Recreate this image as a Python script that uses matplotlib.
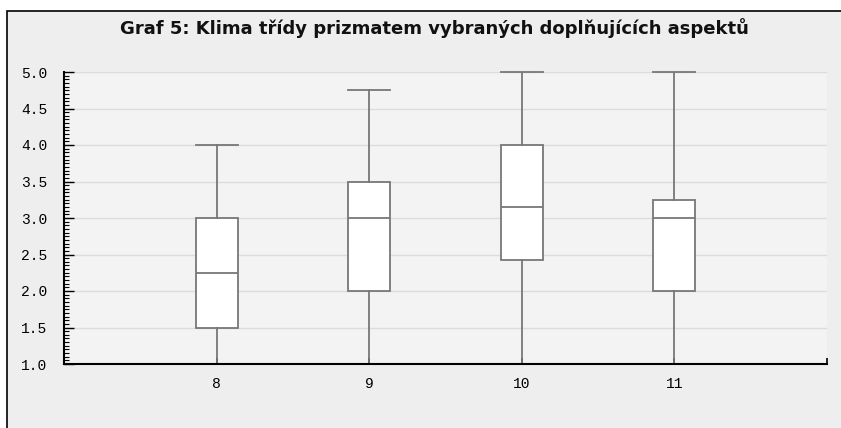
import matplotlib
matplotlib.use("Agg")
import matplotlib.pyplot as plt
from matplotlib.patches import Rectangle
from matplotlib.ticker import MultipleLocator, FormatStrFormatter

# data
grades = ["8", "9", "10", "11"]
positions = [8, 9, 10, 11]
whisker_low = [1.0, 1.0, 1.0, 1.0]
q1 = [1.5, 2.0, 2.43, 2.0]
median = [2.25, 3.0, 3.15, 3.0]
q3 = [3.0, 3.5, 4.0, 3.25]
whisker_high = [4.0, 4.75, 5.0, 5.0]

title = "Graf 5: Klima třídy prizmatem vybraných doplňujících aspektů"

W, H = 841, 428
fig = plt.figure(figsize=(W / 100, H / 100), dpi=100, facecolor="white")

# outer panel with black border on left and top
fig.patches.append(Rectangle((7 / W, -0.1), 1.2, 1.1 - 11 / H,
                             transform=fig.transFigure, facecolor="#eeeeee",
                             edgecolor="black", linewidth=1.2, zorder=0))

ax = fig.add_axes([64 / W, 1 - 364 / H, (827 - 64) / W, (364 - 72) / H])
ax.set_zorder(2)
ax.set_facecolor("#f3f3f3")

stats = []
for i in range(len(grades)):
    stats.append({
        "label": grades[i],
        "whislo": whisker_low[i],
        "q1": q1[i],
        "med": median[i],
        "q3": q3[i],
        "whishi": whisker_high[i],
        "fliers": [],
    })

gray = "#777777"
parts = ax.bxp(stats, positions=positions, widths=0.275, patch_artist=True,
               showfliers=False,
               boxprops=dict(facecolor="white", edgecolor=gray, linewidth=1.3),
               medianprops=dict(color=gray, linewidth=1.3),
               whiskerprops=dict(color=gray, linewidth=1.3),
               capprops=dict(color=gray, linewidth=1.3),
               capwidths=0.275, zorder=3)
# upper caps sit on the top edge, keep them whole
for cap in parts["caps"][1::2]:
    cap.set_clip_on(False)

ax.set_xlim(7, 12)
ax.set_ylim(1, 5)
ax.set_xticks(positions + [12])
ax.set_xticklabels(grades + [""])
ax.yaxis.set_major_locator(MultipleLocator(0.5))
ax.yaxis.set_minor_locator(MultipleLocator(0.05))
ax.yaxis.set_major_formatter(FormatStrFormatter("%.1f"))

ax.grid(axis="y", color="#dcdcdc", linewidth=1.0, zorder=0)
ax.set_axisbelow(True)

for s in ["top", "right"]:
    ax.spines[s].set_visible(False)
for s in ["left", "bottom"]:
    ax.spines[s].set_color("black")
    ax.spines[s].set_linewidth(1.5)
    ax.spines[s].set_zorder(6)

mono = "Liberation Mono"
ax.tick_params(axis="y", which="major", direction="in", length=7, width=1,
               pad=12, labelsize=10.5, colors="black")
ax.tick_params(axis="y", which="minor", direction="in", length=3.5, width=0.8)
ax.tick_params(axis="x", which="major", direction="in", length=4, width=1.2,
               pad=9, labelsize=10.5)
for lab in ax.get_xticklabels() + ax.get_yticklabels():
    lab.set_fontfamily(mono)

fig.text(434 / W, 1 - 28 / H, title, ha="center", va="center",
         fontsize=13, fontweight="bold", family="DejaVu Sans", color="#111111")

fig.savefig("out.png", dpi=100, facecolor="white")
